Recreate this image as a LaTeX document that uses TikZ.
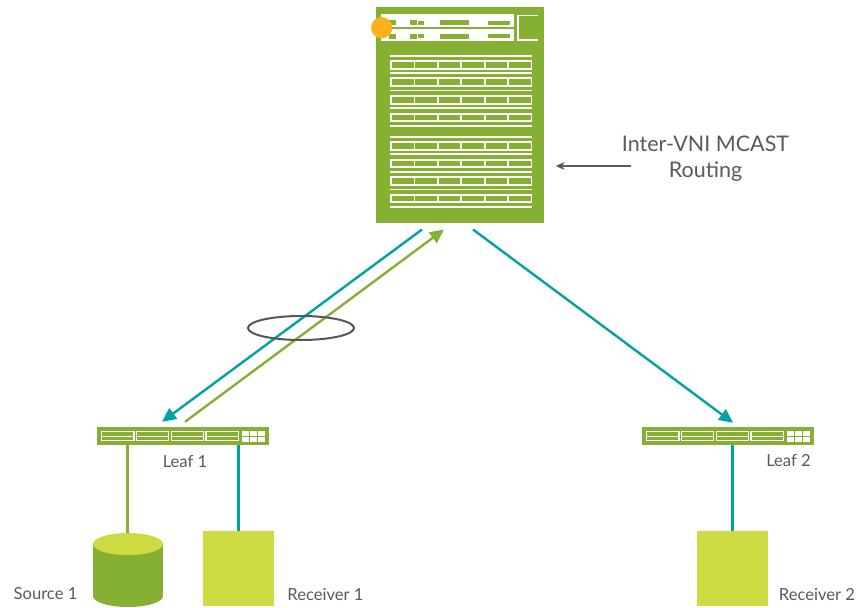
\documentclass[tikz,border=0pt]{standalone}
\usepackage{fontspec}
\setmainfont{Lato}
\usetikzlibrary{calc,arrows.meta,shapes.geometric}
\definecolor{boxgreen}{HTML}{86B034}
\definecolor{boxlime}{HTML}{CDDB43}
\definecolor{linkteal}{HTML}{00A3A1}
\definecolor{textgray}{HTML}{58595B}
\definecolor{ringgray}{HTML}{54565F}
\definecolor{dotorange}{HTML}{FDB120}
\tikzset{
	switchbox/.style={rectangle, fill=boxgreen, inner sep=0pt},
	hostbox/.style={rectangle, fill=boxlime, inner sep=0pt, minimum width=71pt, minimum height=75pt},
	tag/.style={text=textgray, font=\fontsize{16.6}{19}\selectfont, inner sep=0pt},
	biglabel/.style={text=textgray, font=\fontsize{21.5}{25}\selectfont, inner sep=0pt},
	tealarrow/.style={line width=2.4pt, color=linkteal, -{Triangle[length=14pt,width=13pt]}},
	greenarrow/.style={line width=2.4pt, color=boxgreen, -{Triangle[length=14pt,width=13pt]}},
	teallink/.style={line width=2.4pt, color=linkteal},
	greenlink/.style={line width=2.4pt, color=boxgreen},
	whitebar/.style={line width=1.6pt, color=white}
}
% one row of the big chassis, #1 is its top edge
\def\slotrow(#1){
	\fill[white] (390, #1) rectangle (531.5, #1+9.8);
	\foreach \i in {0,...,5}
		\fill[boxgreen] (392+\i*23.4, #1+2) rectangle (413.6+\i*23.4, #1+7.8);
}
\def\bigbar(#1){\draw[whitebar] (390, #1) -- (531.5, #1);}
% ports of a small switch, #1 is its left edge
\def\leafports(#1){
	\foreach \i in {0,...,3} {
		\draw[line width=1.2pt, color=white] (#1+4.5+\i*34.8, 431.5) rectangle (#1+37+\i*34.8, 440.8);
		\draw[line width=1.2pt, color=white] (#1+4.5+\i*34.8, 436.2) -- (#1+37+\i*34.8, 436.2);
	}
	\foreach \i in {0,1,2} {
		\fill[white] (#1+145+\i*8, 431) rectangle (#1+151.7+\i*8, 436);
		\fill[white] (#1+145+\i*8, 437) rectangle (#1+151.7+\i*8, 442);
	}
}
\begin{document}
\begin{tikzpicture}[x=1pt, y=-1pt]
	\useasboundingbox (0, 0) rectangle (858, 607);

	\node[switchbox, minimum width=168pt, minimum height=216pt] (spine) at (460, 115) {};
	\node[switchbox, minimum width=172pt, minimum height=18pt] (leaf1) at (183, 436) {};
	\node[switchbox, minimum width=172pt, minimum height=18pt] (leaf2) at (728, 436) {};
	\node[hostbox] (recv1) at (238.5, 568.5) {};
	\node[hostbox] (recv2) at (732.5, 568.5) {};

	% the drum, its lid is the node
	\fill[boxgreen] (93, 544) rectangle (163, 596);
	\fill[boxgreen] (128, 596) ellipse (35 and 11);
	\node[ellipse, fill=boxlime, inner sep=0pt, minimum width=70pt, minimum height=22pt] (source1) at (128, 544) {};

	% chassis top panels
	\fill[white] (381, 14) rectangle (514, 26.7);
	\fill[white] (381, 29) rectangle (514, 40.7);
	\fill[boxgreen] (389, 20) rectangle (396, 25);
	\fill[boxgreen] (410, 20) rectangle (417, 25);
	\fill[boxgreen] (418, 21) rectangle (424, 25);
	\fill[boxgreen] (440, 20) rectangle (469, 25);
	\fill[boxgreen] (488, 21) rectangle (510, 25);
	\fill[boxgreen] (389, 34) rectangle (396, 39);
	\fill[boxgreen] (410, 34) rectangle (417, 39);
	\fill[boxgreen] (418, 34) rectangle (424, 38);
	\fill[boxgreen] (440, 34) rectangle (469, 39);
	\fill[boxgreen] (488, 34) rectangle (510, 38);
	\draw[whitebar] (538, 15.7) -- (517.7, 15.7) -- (517.7, 40) -- (538, 40);
	\fill[dotorange] (381.7, 27.7) circle (10.7);

	\bigbar(56)
	\slotrow(60)
	\bigbar(73.3)
	\slotrow(77.4)
	\bigbar(90.7)
	\slotrow(95)
	\bigbar(108)
	\slotrow(112.5)
	\bigbar(125.7)

	\bigbar(136.7)
	\slotrow(141.2)
	\bigbar(154)
	\slotrow(158.6)
	\bigbar(171.7)
	\slotrow(175.9)
	\bigbar(189.3)
	\slotrow(193.5)
	\bigbar(207)

	\leafports(97)
	\leafports(642)

	\coordinate (down1top) at ($(spine.south)+(-38, 6.3)$);
	\coordinate (down1end) at ($(leaf1.north)+(-21, -5)$);
	\coordinate (up1top) at ($(spine.south)+(-16, 6.3)$);
	\coordinate (up1end) at ($(leaf1.north)+(2, -5)$);
	\coordinate (down2top) at ($(spine.south)+(13, 6.3)$);
	\coordinate (down2end) at ($(leaf2.north)+(5, -4)$);

	\draw[tealarrow] (down1top) -- (down1end);
	\draw[greenarrow] (up1end) -- (up1top);
	\draw[tealarrow] (down2top) -- (down2end);

	\draw[greenlink] ([xshift=-0.5pt]leaf1.south -| source1.north) -- ([xshift=-0.5pt]source1.north);
	\draw[teallink] (leaf1.south -| recv1.north) -- (recv1.north);
	\draw[teallink] (leaf2.south -| recv2.north) -- (recv2.north);

	\node[draw=ringgray, line width=2pt, ellipse, inner sep=0pt, minimum width=106pt, minimum height=24pt] (ring) at (301, 328) {};

	\node[biglabel] (mcast) at (705.5, 144) {Inter-VNI MCAST};
	\node[biglabel] (routing) at (705.5, 171.5) {Routing};
	\coordinate (notestart) at (631, 166);
	\coordinate (noteend) at ($(spine.east |- notestart)+(11.5, 0)$);
	\draw[line width=1.1pt, color=textgray, -{Stealth[length=9pt,width=8pt]}] (notestart) -- (noteend);

	\node[tag] (leaf1text) at (185, 461.5) {Leaf 1};
	\node[tag] (leaf2text) at (788.5, 460.5) {Leaf 2};
	\node[tag] (source1text) at (45.5, 594) {Source 1};
	\node[tag] (recv1text) at (325.5, 594) {Receiver 1};
	\node[tag] (recv2text) at (817, 594) {Receiver 2};
\end{tikzpicture}
\end{document}
